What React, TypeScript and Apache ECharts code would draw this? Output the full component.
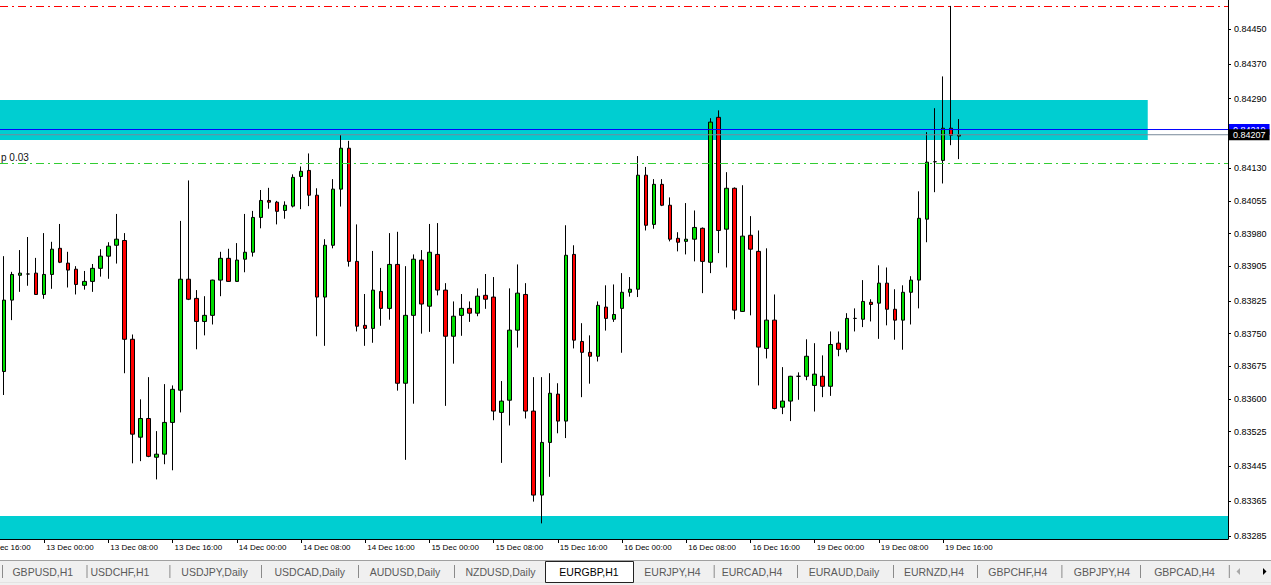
import React, { useEffect, useRef } from "react";
import * as echarts from "echarts";

// ---- EURGBP H1 candles (from 12 Dec 19:00) ----
const opens = [
  0.83663, 0.83827, 0.83884, 0.83887, 0.83889, 0.8384, 0.83886, 0.83946, 0.83912, 0.83898,
  0.83861, 0.8387, 0.839, 0.83928, 0.83953, 0.83964, 0.83737, 0.83512, 0.83555, 0.83466,
  0.83473, 0.83546, 0.8362, 0.83875, 0.83831, 0.83778, 0.83792, 0.83873, 0.83923, 0.8387,
  0.83921, 0.83937, 0.84017, 0.84056, 0.84052, 0.84033, 0.84043, 0.84111, 0.84125, 0.84068,
  0.83834, 0.83953, 0.84082, 0.84176, 0.83916, 0.83769, 0.83762, 0.83847, 0.83808, 0.83909,
  0.83636, 0.83792, 0.83919, 0.83813, 0.83932, 0.8385, 0.83744, 0.83792, 0.83808, 0.83797,
  0.83838, 0.83834, 0.83569, 0.83597, 0.83758, 0.8384, 0.83572, 0.83379, 0.835, 0.83611,
  0.83549, 0.83932, 0.83732, 0.83707, 0.83698, 0.83811, 0.83783, 0.83808, 0.83845, 0.83852,
  0.84114, 0.84001, 0.84093, 0.84045, 0.83969, 0.83962, 0.83967, 0.83992, 0.83914, 0.84247,
  0.8399, 0.84084, 0.83801, 0.83976, 0.83939, 0.83716, 0.83781, 0.83581, 0.83595, 0.83652,
  0.83652, 0.83631, 0.83652, 0.83629, 0.83728, 0.83714, 0.83785, 0.83783, 0.83822, 0.8382,
  0.83866, 0.83806, 0.83781, 0.83845, 0.83873, 0.84013, 0.84145, 0.84148, 0.84222, 0.84204,
];
const closes = [
  0.83827, 0.83886, 0.83889, 0.83887, 0.8384, 0.83886, 0.83944, 0.83914, 0.83896, 0.83863,
  0.8387, 0.839, 0.83928, 0.83951, 0.83967, 0.83737, 0.83519, 0.83555, 0.83468, 0.83473,
  0.83546, 0.83622, 0.83875, 0.83829, 0.83778, 0.83792, 0.83873, 0.83923, 0.8387, 0.83919,
  0.83937, 0.84017, 0.84056, 0.84052, 0.84031, 0.84045, 0.84109, 0.84123, 0.84068, 0.83834,
  0.83953, 0.84082, 0.84176, 0.83916, 0.83767, 0.83762, 0.8385, 0.83808, 0.83909, 0.83636,
  0.83792, 0.83921, 0.83818, 0.83937, 0.8385, 0.83744, 0.8379, 0.83808, 0.83797, 0.83836,
  0.83829, 0.83572, 0.83595, 0.83758, 0.83843, 0.83572, 0.83379, 0.835, 0.83613, 0.83549,
  0.8393, 0.83735, 0.83707, 0.83698, 0.83815, 0.83785, 0.83794, 0.83845, 0.83852, 0.84114,
  0.83999, 0.84093, 0.84045, 0.83967, 0.8396, 0.83967, 0.83994, 0.83916, 0.84236, 0.83987,
  0.84084, 0.83804, 0.83974, 0.83944, 0.83719, 0.83781, 0.83578, 0.83595, 0.83652, 0.83652,
  0.83698, 0.83657, 0.83629, 0.83725, 0.83714, 0.83785, 0.83785, 0.83824, 0.83817, 0.83866,
  0.83806, 0.83781, 0.83845, 0.83873, 0.84015, 0.84144, 0.84145, 0.84222, 0.84206, 0.84207,
];
const lows = [
  0.83609, 0.83781, 0.83846, 0.8386, 0.8384, 0.8383, 0.83853, 0.83912, 0.83856, 0.8384,
  0.83851, 0.83846, 0.83881, 0.83876, 0.83911, 0.83659, 0.83452, 0.83457, 0.83466, 0.83415,
  0.8345, 0.83436, 0.83569, 0.83827, 0.83714, 0.83746, 0.83771, 0.83836, 0.83869, 0.83869,
  0.83891, 0.83927, 0.83992, 0.84037, 0.84001, 0.84014, 0.8404, 0.84036, 0.84043, 0.83744,
  0.83722, 0.83946, 0.84042, 0.83904, 0.83755, 0.83722, 0.83729, 0.83768, 0.83782, 0.83619,
  0.8346, 0.83589, 0.8375, 0.83754, 0.83838, 0.83584, 0.83681, 0.83745, 0.83777, 0.8379,
  0.83807, 0.83551, 0.83453, 0.83539, 0.83718, 0.83555, 0.83364, 0.83314, 0.83421, 0.83521,
  0.8351, 0.83716, 0.83604, 0.83635, 0.83686, 0.83757, 0.83777, 0.83706, 0.83835, 0.83834,
  0.83987, 0.83991, 0.84043, 0.83962, 0.83939, 0.83932, 0.83916, 0.83843, 0.83889, 0.83935,
  0.83902, 0.83783, 0.838, 0.83792, 0.83631, 0.83693, 0.83576, 0.83565, 0.83549, 0.83598,
  0.83643, 0.83571, 0.83604, 0.83607, 0.83698, 0.83707, 0.83755, 0.83765, 0.83778, 0.83738,
  0.83769, 0.83736, 0.83713, 0.83771, 0.83808, 0.8396, 0.84075, 0.84095, 0.84183, 0.84151,
];
const highs = [
  0.83928, 0.83892, 0.83942, 0.83972, 0.83924, 0.83981, 0.83961, 0.84002, 0.83938, 0.83905,
  0.83894, 0.8391, 0.83944, 0.8396, 0.84025, 0.83981, 0.83748, 0.83599, 0.8365, 0.83526,
  0.83634, 0.83631, 0.84009, 0.84102, 0.8385, 0.83836, 0.83874, 0.83938, 0.83945, 0.83958,
  0.84025, 0.84032, 0.8408, 0.84085, 0.84055, 0.84054, 0.84116, 0.84134, 0.84164, 0.84084,
  0.83967, 0.84105, 0.84206, 0.84193, 0.84001, 0.83841, 0.8394, 0.83901, 0.83981, 0.83984,
  0.83905, 0.83932, 0.83942, 0.84002, 0.84004, 0.83866, 0.83824, 0.83841, 0.83824, 0.83854,
  0.83887, 0.8388, 0.83641, 0.83854, 0.83909, 0.83866, 0.8365, 0.8365, 0.83659, 0.83636,
  0.83999, 0.83953, 0.83774, 0.83746, 0.83824, 0.83861, 0.83863, 0.83889, 0.8388, 0.84158,
  0.84133, 0.84105, 0.84105, 0.84063, 0.83983, 0.8405, 0.84033, 0.83994, 0.84245, 0.84263,
  0.84121, 0.84086, 0.84091, 0.8402, 0.83987, 0.83946, 0.8384, 0.83673, 0.83653, 0.83661,
  0.83737, 0.83728, 0.837, 0.83755, 0.83755, 0.83797, 0.83808, 0.83873, 0.83829, 0.83907,
  0.83902, 0.83852, 0.83861, 0.83882, 0.84077, 0.84213, 0.84268, 0.84341, 0.84503, 0.84243,
];

// time slots: hourly, from 12 Dec 19:00, weekend skipped
const tradingDays = [12, 13, 14, 15, 16, 19, 20, 21];
const firstHour = 19;
const slotCount = 153;

// price axis
const Y_MAX = 0.845166;
const Y_MIN = 0.832781;
const priceTicks = [
  0.8445, 0.8437, 0.8429, 0.8413, 0.84055, 0.8398, 0.83905, 0.83825,
  0.8375, 0.83675, 0.836, 0.83525, 0.83445, 0.83365, 0.83285,
];

// horizontal levels and zones
const askPrice = 0.84219;
const bidPrice = 0.84207;
const highLevel = 0.84503;
const tpLevel = 0.84141;
const tpText = "p 0.03";
const upperZone = [0.84287, 0.84195];
const upperZoneEndSlot = 143;
const lowerZone = [0.83331, Y_MIN];

// terminal tabs
const tabNames = [
  "GBPUSD,H1", "USDCHF,H1", "USDJPY,Daily", "USDCAD,Daily", "AUDUSD,Daily", "NZDUSD,Daily",
  "EURGBP,H1", "EURJPY,H4", "EURCAD,H4", "EURAUD,Daily", "EURNZD,H4", "GBPCHF,H4", "GBPJPY,H4", "GBPCAD,H4",
];
const activeTabName = "EURGBP,H1";
const tabCenters = [42.8, 120, 214.5, 309.8, 405, 500.5, 589, 672.5, 752, 844, 934, 1017.8, 1102, 1184.5];
const tabSeparators = [2, 86.5, 169.4, 261, 358, 454, 713.7, 797, 893, 977, 1061.4, 1140, 1228.8];

const FONT = "'Liberation Sans', Arial, sans-serif";

function buildSlots() {
  const out: { label: string; hour: number }[] = [];
  for (const d of tradingDays) {
    for (let h = 0; h < 24; h++) {
      if (d === tradingDays[0] && h < firstHour) continue;
      if (out.length >= slotCount) return out;
      out.push({ label: `${d} Dec ${String(h).padStart(2, "0")}:00`, hour: h });
    }
  }
  return out;
}

function dashedLevel(name: string, value: number, color: string, label: any) {
  return {
    name,
    type: "line",
    data: [],
    silent: true,
    z: 4,
    color,
    markLine: {
      silent: true,
      precision: 5,
      symbol: ["none", "none"],
      animation: false,
      lineStyle: { color, width: 1, type: [8, 4, 2, 4], opacity: 1 },
      label,
      emphasis: { disabled: true },
      data: [{ yAxis: value }],
    },
  };
}

function priceLine(name: string, value: number, color: string, boxColor: string) {
  return {
    name,
    type: "line",
    xAxisIndex: 1,
    data: [[0, value], [slotCount, value]],
    silent: true,
    z: 5,
    showSymbol: false,
    symbol: "none",
    color,
    lineStyle: { color, width: 1, type: "solid", opacity: 1 },
    emphasis: { disabled: true },
    endLabel: {
      show: true,
      formatter: value.toFixed(5),
      color: "#ffffff",
      backgroundColor: boxColor,
      fontSize: 9,
      fontFamily: FONT,
      lineHeight: 9,
      padding: [1, 4, 1, 4],
      distance: 1,
    },
  };
}

export default function App() {
  const ref = useRef<HTMLDivElement>(null);

  useEffect(() => {
    if (!ref.current) return;
    document.body.style.margin = "0";
    const chart = echarts.init(ref.current, null, { renderer: "svg" });
    const slots = buildSlots();
    const lastIdx = opens.length - 1;
    const showSlot = (index: number) => index <= lastIdx && !!slots[index] && slots[index].hour % 8 === 0;
    const candleData = opens.map((o, i) => [o, closes[i], lows[i], highs[i]]);

    const graphicEls: any[] = [
      { type: "rect", shape: { x: 0, y: 560, width: 1271, height: 25 }, style: { fill: "#f0f0f0" }, silent: true },
      { type: "line", shape: { x1: 0, y1: 560.5, x2: 1271, y2: 560.5 }, style: { stroke: "#a0a0a0", lineWidth: 1 }, silent: true },
      { type: "line", shape: { x1: 0, y1: 582.5, x2: 1271, y2: 582.5 }, style: { stroke: "#e3e3e3", lineWidth: 1 }, silent: true },
      {
        type: "text", x: -17, y: 543, silent: true,
        style: { text: "12 Dec 16:00", fill: "#000", fontSize: 8, fontFamily: FONT, align: "left", verticalAlign: "top" },
      },
    ];
    tabSeparators.forEach((sx) => {
      graphicEls.push({
        type: "line", silent: true,
        shape: { x1: sx + 0.5, y1: 565, x2: sx + 0.5, y2: 578 },
        style: { stroke: "#8a8a8a", lineWidth: 1 },
      });
    });
    tabNames.forEach((name, i) => {
      const active = name === activeTabName;
      if (active) {
        graphicEls.push({
          type: "rect", silent: true,
          shape: { x: 545.5, y: 561.5, width: 88, height: 21 },
          style: { fill: "#ffffff", stroke: "#222", lineWidth: 1 },
        });
      }
      graphicEls.push({
        type: "text", x: tabCenters[i], y: 571.5, silent: true,
        style: {
          text: name, fill: active ? "#000" : "#5a5a5a", fontSize: 10.5, fontFamily: FONT,
          align: "center", verticalAlign: "middle",
        },
      });
    });
    graphicEls.push({ type: "polygon", silent: true, shape: { points: [[1240, 568], [1240, 575], [1236.5, 571.5]] }, style: { fill: "#a8a8a8" } });
    graphicEls.push({ type: "polygon", silent: true, shape: { points: [[1263, 568], [1263, 575], [1266.5, 571.5]] }, style: { fill: "#000" } });

    chart.setOption({
      animation: false,
      backgroundColor: "#ffffff",
      grid: { left: 0, top: 0, width: 1228, height: 539, containLabel: false, outerBoundsMode: "none" },
      xAxis: [
        {
          type: "category",
          data: slots.map((s) => s.label),
          boundaryGap: true,
          axisLine: { show: true, onZero: false, lineStyle: { color: "#000", width: 1 } },
          axisTick: { show: true, alignWithLabel: true, interval: showSlot, length: 4, lineStyle: { color: "#000" } },
          axisLabel: {
            interval: showSlot, align: "left", color: "#000", fontSize: 8, fontFamily: FONT,
            margin: 4, padding: [0, 0, 0, 2],
          },
          splitLine: { show: false },
        },
        {
          type: "value",
          min: 0,
          max: slotCount,
          show: false,
          position: "bottom",
        },
      ],
      yAxis: {
        type: "value",
        position: "right",
        min: Y_MIN,
        max: Y_MAX,
        scale: true,
        splitLine: { show: false },
        axisLine: { show: true, onZero: false, lineStyle: { color: "#000", width: 1 } },
        axisTick: { show: true, inside: false, length: 3, customValues: priceTicks, lineStyle: { color: "#000" } },
        axisLabel: {
          customValues: priceTicks,
          formatter: (v: number) => v.toFixed(5),
          color: "#000", fontSize: 9, fontFamily: FONT, margin: 6,
        },
      },
      series: [
        {
          name: "zones",
          type: "line",
          xAxisIndex: 1,
          data: [],
          silent: true,
          z: 1,
          markArea: {
            silent: true,
            itemStyle: { color: "#00ced1", opacity: 1 },
            data: [
              [{ yAxis: upperZone[0] }, { xAxis: upperZoneEndSlot, yAxis: upperZone[1] }],
              [{ yAxis: lowerZone[0] }, { yAxis: lowerZone[1] }],
            ],
          },
        },
        {
          name: "EURGBP",
          type: "candlestick",
          data: candleData,
          barWidth: 4,
          z: 3,
          itemStyle: {
            color: "#00dd00",
            color0: "#ff0000",
            borderColor: "#000000",
            borderColor0: "#000000",
            borderColorDoji: "#000000",
            borderWidth: 1,
          },
        },
        dashedLevel("high", highLevel, "#ff0000", { show: false }),
        dashedLevel("tp", tpLevel, "#32cd32", {
          show: true, position: "insideStartTop", formatter: tpText, color: "#111",
          fontSize: 10, fontFamily: FONT, distance: [1, 1], padding: 0,
        }),
        priceLine("ask", askPrice, "#0000ff", "#0000ff"),
        priceLine("bid", bidPrice, "#778899", "#000000"),
      ],
      graphic: { elements: graphicEls },
    });

    return () => chart.dispose();
  }, []);

  return (
    <div
      ref={ref}
      style={{ position: "fixed", left: 0, top: 0, width: 1271, height: 585, background: "#fff" }}
    />
  );
}
